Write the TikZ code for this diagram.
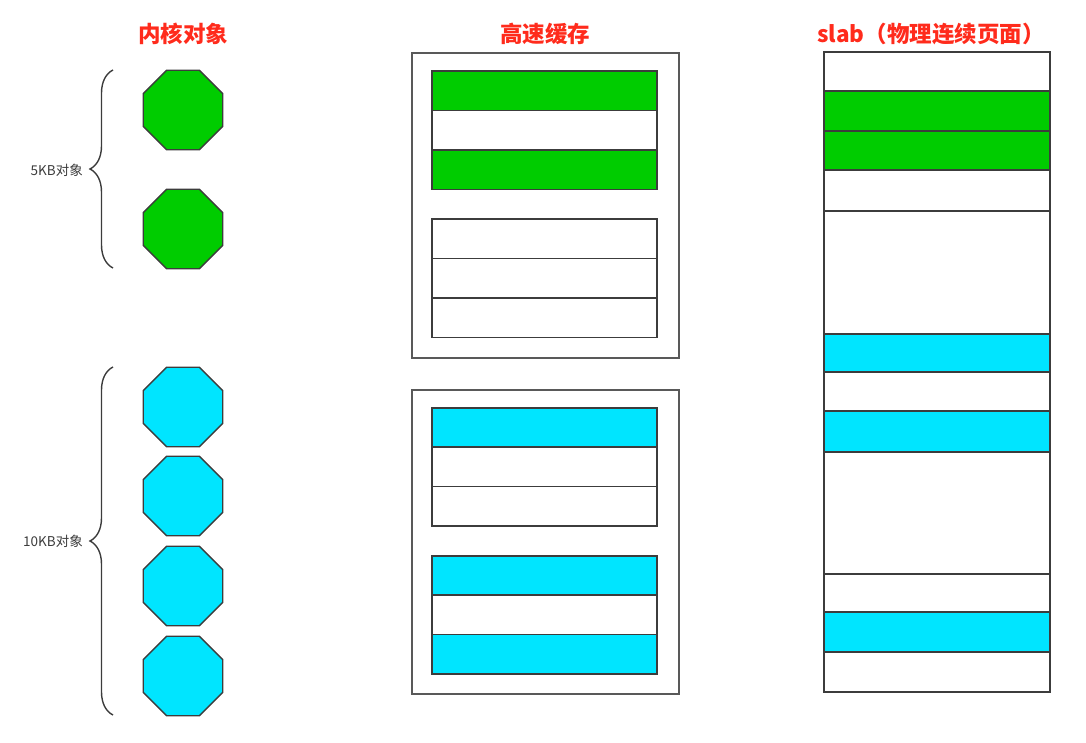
\documentclass[tikz,border=0pt]{standalone}
\usepackage{fontspec}
\setmainfont{Noto Sans CJK SC}
\usetikzlibrary{shapes.geometric,decorations.pathreplacing}
\definecolor{objgreen}{HTML}{00CC00}
\definecolor{objcyan}{HTML}{00E5FF}
\definecolor{titlered}{HTML}{FF2B1C}
\definecolor{edge}{HTML}{3C3C3C}

\begin{document}
\begin{tikzpicture}[x=1pt,y=-1pt,
    title/.style={text=titlered,font=\fontsize{22.5}{27}\selectfont\bfseries},
    obj/.style={regular polygon,regular polygon sides=8,minimum size=86pt,inner sep=0pt,draw=edge,line width=1.4pt},
    slot/.style={draw=edge,line width=1.5pt,minimum width=225pt,inner sep=0pt,outer sep=0pt,anchor=north west},
    cache/.style={draw=edge!85,line width=1.8pt,minimum width=267pt,inner sep=0pt,anchor=north west},
    size/.style={text=edge,font=\fontsize{13.5}{16}\selectfont,anchor=east,inner sep=0pt},
    group/.style={draw=edge,line width=1.4pt,decorate,decoration={brace,amplitude=23pt}}]
    \useasboundingbox (0,0) rectangle (1086,743);

    \node[title] (tobj) at (183,34) {内核对象};
    \node[title] (tcache) at (545,34) {高速缓存};
    \node[title] (tslab) at (931,34) {slab（物理连续页面）};

    \foreach \y [count=\i] in {110,229}
        \node[obj,fill=objgreen] (obja\i) at (183,\y) {};
    \foreach \y [count=\i] in {407,496,586,676}
        \node[obj,fill=objcyan] (objb\i) at (183,\y) {};

    \coordinate (ga1) at (113,268);
    \coordinate (ga2) at (113,70);
    \coordinate (gb1) at (113,715);
    \coordinate (gb2) at (113,367);
    \draw[group] (ga1) -- (ga2);
    \draw[group] (gb1) -- (gb2);
    \node[size] (sa) at (83,170) {5KB对象};
    \node[size] (sb) at (83,541) {10KB对象};

    \node[cache,minimum height=305pt] (cachea) at (411,52) {};
    \node[cache,minimum height=304pt] (cacheb) at (411,389) {};
    \foreach \t/\col [count=\i] in {71/objgreen,110.5/white,150/objgreen,219/white,258.5/white,298/white}
        \node[slot,minimum height=39.5pt,fill=\col] (ca\i) at (432,\t) {};
    \foreach \t/\col [count=\i] in {408/objcyan,447/white,486.5/white,556/objcyan,595/white,634.5/objcyan}
        \node[slot,minimum height=39.5pt,fill=\col] (cb\i) at (432,\t) {};

    \foreach \t/\h/\col [count=\i] in {52/39/white,91/40/objgreen,131/39/objgreen,170/41/white,
        211/123/white,334/38/objcyan,372/39/white,411/41/objcyan,452/122/white,574/38/white,
        612/40/objcyan,652/40/white}
        \node[slot,minimum width=226pt,minimum height=\h,fill=\col] (s\i) at (824,\t) {};
\end{tikzpicture}
\end{document}
